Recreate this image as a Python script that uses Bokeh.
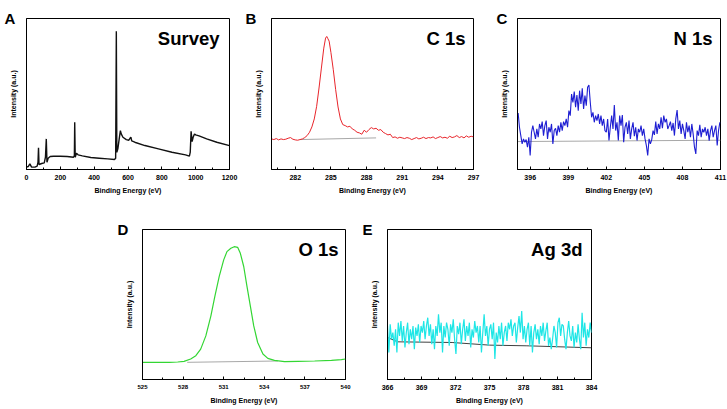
from bokeh.plotting import figure
from bokeh.models import Range1d, SingleIntervalTicker, FixedTicker, Label, Spacer
from bokeh.layouts import row, column
from bokeh.embed import file_html
from bokeh.resources import INLINE
import numpy as np

FONT = "Liberation Sans"

# ---------------- data (intensity in arbitrary units) ----------------
SURVEY_EV = [0, 10, 20, 30, 50, 63, 68, 71, 74, 90, 105, 112, 117, 121, 128, 140, 160, 200, 240, 278,
             283, 285, 288, 295, 305, 330, 380, 430, 480, 520, 527, 531, 534, 540, 548, 555, 560, 570,
             590, 605, 612, 617, 622, 640, 700, 780, 860, 940, 963, 968, 973, 979, 985, 993, 1000,
             1020, 1065, 1125, 1200]
SURVEY_I = [7, 9, 17, 7, 7, 10, 22, 65, 15, 18, 20, 37, 92, 22, 34, 39, 40, 40, 39, 37,
            42, 142, 37, 49, 44, 41, 36, 34, 32, 30, 34, 416, 52, 62, 92, 117, 107, 97,
            90, 88, 94, 97, 86, 82, 72, 62, 52, 44, 40, 52, 115, 84, 97, 107, 104,
            101, 92, 82, 72]

C1S_EV = [280.0, 280.2, 280.4, 280.6, 280.8, 281.0, 281.2, 281.4, 281.6, 281.8, 282.0, 282.2,
          282.4, 282.6, 282.8, 283.0, 283.2, 283.4, 283.6, 283.8, 284.0, 284.2, 284.4,
          284.55, 284.65, 284.75, 284.85,
          285.0, 285.2, 285.4, 285.6, 285.8, 286.0, 286.2, 286.4, 286.6, 286.8, 287.0, 287.2,
          287.4, 287.6, 287.8, 288.0, 288.2, 288.4, 288.6, 288.8, 289.0, 289.2, 289.4, 289.6,
          289.8, 290.0,
          290.2, 290.4, 290.6, 290.8, 291.0, 291.2, 291.4, 291.6, 291.8, 292.0, 292.2, 292.4,
          292.6, 292.8, 293.0, 293.2, 293.4, 293.6, 293.8, 294.0, 294.2, 294.4, 294.6, 294.8,
          295.0, 295.2, 295.4, 295.6, 295.8, 296.0, 296.2, 296.4, 296.6, 296.8, 297.0]
C1S_I = [92, 90, 93, 89, 92, 90, 91, 94, 96, 91, 89, 88,
         90, 92, 96, 102, 112, 128, 152, 190, 245, 305, 365,
         395, 400, 393, 386,
         352, 300, 240, 188, 152, 135, 132, 128, 130, 122, 118, 112,
         110, 106, 118, 112, 120, 126, 122, 124, 118, 120, 112, 108,
         104, 106,
         96, 98, 94, 97, 95, 93, 96, 94, 90, 93, 96, 92,
         94, 97, 93, 96, 95, 98, 93, 96, 99, 95, 97, 94,
         100, 96, 98, 102, 96, 99, 95, 101, 97, 100, 98]
C1S_BG_EV = [282.4, 288.8]
C1S_BG_I = [90, 95]

N1S_START, N1S_END = 395.05, 410.95
N1S_I = [170, 127, 102, 77, 92, 82, 90, 67, 97, 42, 112, 132, 112, 92, 122, 97, 137, 122, 144, 102,
         132, 147, 92, 127, 112, 137, 77, 117, 124, 102, 132, 112, 142, 117, 144, 132, 152, 127,
         177, 162, 227, 202, 234, 187, 224, 177, 237, 197, 244, 182, 222, 192, 247, 254, 202, 157,
         172, 142, 162, 147, 167, 137, 162, 132, 152, 117, 112, 152, 87, 127, 162, 122, 194, 117,
         142, 87, 162, 132, 164, 82, 127, 142, 107, 147, 92, 122, 142, 100, 127, 87, 122, 112,
         132, 102, 122, 92, 72, 42, 92, 77, 90, 117, 104, 144, 107, 137, 122, 157, 124, 162,
         142, 152, 122, 132, 144, 117, 140, 102, 152, 179, 122, 147, 107, 137, 117, 92, 142, 112,
         132, 97, 137, 107, 67, 47, 117, 102, 134, 97, 122, 112, 127, 102, 122, 87, 117, 132,
         97, 117, 132, 72, 117, 142]
N1S_BG_EV = [395.0, 411.0]
N1S_BG_I = [84, 88]

O1S_EV = [525.0, 526.0, 527.0, 527.6, 528.07, 528.56, 528.94, 529.3, 529.68, 530.05, 530.35,
          530.67, 531.0, 531.24, 531.53, 531.78, 532.03, 532.23, 532.48, 532.72, 532.97, 533.22,
          533.51, 533.9, 534.26, 534.75, 535.5, 536.49, 537.72, 538.96, 539.7, 540.0]
O1S_I = [52, 52, 52, 53, 55, 62, 72, 92, 132, 192, 252,
         312, 362, 387, 397, 402, 400, 382, 342, 282, 222, 162,
         112, 77, 64, 58, 54, 55, 56, 58, 60, 62]
O1S_BG_EV = [528.3, 535.0]
O1S_BG_I = [52, 56]

AG3D_START, AG3D_END = 366.0, 384.0
AG3D_I = [162, 82, 167, 122, 142, 102, 152, 82, 172, 132, 177, 117, 162, 97, 142, 172, 107, 152,
          122, 162, 92, 157, 132, 167, 112, 162, 142, 177, 122, 162, 187, 132, 167, 107, 152, 92,
          162, 132, 197, 142, 172, 82, 162, 127, 172, 152, 102, 167, 142, 182, 122, 77, 162, 137,
          172, 107, 152, 182, 117, 162, 132, 172, 97, 152, 127, 177, 142, 162, 112, 162, 82, 142,
          197, 132, 162, 102, 152, 167, 122, 172, 62, 142, 112, 162, 122, 172, 102, 142, 162, 117,
          172, 152, 182, 132, 162, 172, 112, 157, 192, 142, 207, 122, 162, 112, 152, 172, 102, 162,
          82, 142, 167, 122, 152, 107, 162, 132, 172, 117, 147, 172, 102, 127, 92, 122, 162, 142,
          97, 172, 187, 132, 167, 162, 122, 92, 142, 177, 132, 117, 162, 97, 142, 112, 167, 122,
          92, 202, 127, 172, 102, 152, 127, 172, 142]
AG3D_BG_EV = [366.0, 366.9, 371.7, 375.0, 378.3, 384.0]
AG3D_BG_I = [127, 114, 112, 104, 102, 96]

Y_RANGE = (0, 454)


def make_panel(letter, name, xr, interval, xs, ys, color, lw, bxs, bys, bcolor,
               frame_w, frame_h, left, right, top, bottom, letter_off, name_inset,
               tick_size="7px", tick_standoff=5, title_standoff=4):
    w = left + frame_w + right
    h = top + frame_h + bottom
    p = figure(width=w, height=h, x_range=Range1d(*xr), y_range=Range1d(*Y_RANGE),
               output_backend="svg", toolbar_location=None,
               min_border_left=left, min_border_right=right,
               min_border_top=top, min_border_bottom=bottom)
    p.background_fill_color = "white"
    p.border_fill_color = "white"
    p.outline_line_color = "black"
    p.outline_line_width = 1
    p.outline_line_alpha = 1
    p.xgrid.visible = False
    p.ygrid.visible = False

    p.line(bxs, bys, line_color=bcolor, line_width=1)
    p.line(xs, ys, line_color=color, line_width=lw)

    xa = p.xaxis[0]
    xa.ticker = SingleIntervalTicker(interval=interval, num_minor_ticks=2)
    xa.major_tick_in = 3
    xa.major_tick_out = 0
    xa.minor_tick_in = 2
    xa.minor_tick_out = 0
    xa.major_tick_line_color = "black"
    xa.minor_tick_line_color = "black"
    xa.axis_line_color = "black"
    xa.major_label_text_font = FONT
    xa.major_label_text_font_style = "bold"
    xa.major_label_text_font_size = tick_size
    xa.major_label_text_color = "black"
    xa.major_label_standoff = tick_standoff
    xa.axis_label = "Binding Energy (eV)"
    xa.axis_label_text_font = FONT
    xa.axis_label_text_font_style = "bold"
    xa.axis_label_text_font_size = "7px"
    xa.axis_label_text_color = "black"
    xa.axis_label_standoff = title_standoff

    ya = p.yaxis[0]
    ya.ticker = FixedTicker(ticks=[])
    ya.major_tick_in = 0
    ya.major_tick_out = 0
    ya.minor_tick_in = 0
    ya.minor_tick_out = 0
    ya.major_label_text_font_size = "0px"
    ya.major_label_standoff = 0
    ya.axis_line_color = "black"
    ya.axis_label = "Intensity (a.u.)"
    ya.axis_label_text_font = FONT
    ya.axis_label_text_font_style = "bold"
    ya.axis_label_text_font_size = "7px"
    ya.axis_label_text_color = "black"
    ya.axis_label_standoff = 10

    dx = (xr[1] - xr[0]) / frame_w
    dy = (Y_RANGE[1] - Y_RANGE[0]) / frame_h
    p.add_layout(Label(x=xr[0] - letter_off * dx, y=0, x_units="data", y_units="screen",
                       text=letter,
                       text_font=FONT, text_font_style="bold", text_font_size="15px",
                       text_align="left", text_baseline="alphabetic", text_color="black"),
                 "above")
    p.add_layout(Label(x=xr[1] - name_inset * dx, y=Y_RANGE[1] - 20 * dy, text=name,
                       text_font=FONT, text_font_style="bold", text_font_size="18.5px",
                       text_align="right", text_baseline="alphabetic", text_color="black"))
    return p


n1s_ev = np.linspace(N1S_START, N1S_END, len(N1S_I))
ag_ev = np.linspace(AG3D_START, AG3D_END, len(AG3D_I))

pA = make_panel("A", "Survey", (0, 1200), 200, SURVEY_EV, SURVEY_I, "#111111", 1.4,
                [], [], "#a8a8a8", 203, 151, 26, 15, 18, 36, 22, 10)
pB = make_panel("B", "C 1s", (280, 297), 3, C1S_EV, C1S_I, "#e8252b", 1.0,
                C1S_BG_EV, C1S_BG_I, "#a8a8a8", 202, 151, 27, 22, 18, 36, 26, 8)
pC = make_panel("C", "N 1s", (395, 411), 3, n1s_ev, N1S_I, "#1e1ed2", 1.1,
                N1S_BG_EV, N1S_BG_I, "#a8a8a8", 203, 151, 22, 7, 18, 36, 21, 8)
pD = make_panel("D", "O 1s", (525, 540), 3, O1S_EV, O1S_I, "#33d633", 1.2,
                O1S_BG_EV, O1S_BG_I, "#a8a8a8", 203, 150, 26, 16, 24, 30, 25, 7,
                tick_size="6px", tick_standoff=5, title_standoff=5)
pE = make_panel("E", "Ag 3d", (366, 384), 3, ag_ev, AG3D_I, "#1ee6e6", 1.2,
                AG3D_BG_EV, AG3D_BG_I, "#404040", 204, 150, 26, 12, 24, 30, 25, 9,
                tick_size="7px", tick_standoff=5, title_standoff=4)

layout = column(row(pA, pB, pC), row(Spacer(width=116, height=204), pD, pE))

open("out.html", "w").write(file_html(layout, INLINE))
